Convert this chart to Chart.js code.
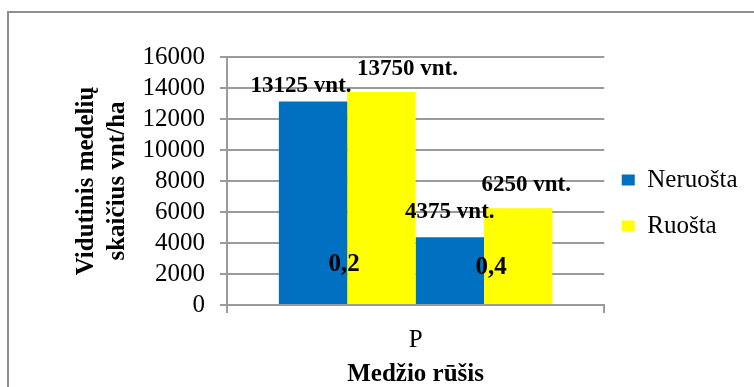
<!DOCTYPE html>
<html><head><meta charset="utf-8">
<script src="https://cdn.jsdelivr.net/npm/chart.js@4"></script>
<style>
html,body{margin:0;padding:0;background:#fff;overflow:hidden}
#wrap{position:relative;width:754px;height:387px;overflow:hidden}
#frame{position:absolute;left:7px;top:11px;width:800px;height:400px;border:2px solid #8f8f8f;box-sizing:border-box}
canvas{position:absolute;left:0;top:0}
</style></head><body>
<div id="wrap"><div id="frame"></div><canvas id="c" width="754" height="387"></canvas></div>
<script>
const categories = ['P'];
const groups = ['0,2', '0,4'];
const seriesNames = ['Neruošta', 'Ruošta'];
const neruosta = [13125, 4375];
const ruosta = [13750, 6250];
const yTicks = [0, 2000, 4000, 6000, 8000, 10000, 12000, 14000, 16000];
const unit = 'vnt.';
const yTitle = ['Vidutinis medelių', 'skaičius vnt/ha'];
const xTitle = 'Medžio rūšis';

const FONT = "'Liberation Serif', 'Times New Roman', serif";
const colors = ['#0070C0', '#FFFF00'];
const gridColor = '#9a9a9a';

const datasets = [];
groups.forEach((g, gi) => {
  [neruosta, ruosta].forEach((arr, si) => {
    datasets.push({
      label: seriesNames[si],
      group: g,
      data: [arr[gi]],
      backgroundColor: colors[si],
      borderWidth: 0
    });
  });
});

// label nudges (pixels) relative to bar top-centre, and group label nudges
const labelNudge = [[-12, -16], [26, -23], [0, -25], [8, -23]];
const groupNudge = [[-3, -40], [7, -37]];

const labelsPlugin = {
  id: 'labels',
  afterLayout(chart) {
    const lg = chart.legend;
    if (lg) { lg.top -= 19; lg.bottom -= 19; lg.left -= 3.5; lg.right -= 3.5; }
  },
  afterDatasetsDraw(chart) {
    const ctx = chart.ctx;
    const yScale = chart.scales.y;
    const base = yScale.getPixelForValue(0);
    ctx.save();
    ctx.fillStyle = '#000';
    ctx.textAlign = 'center';
    ctx.textBaseline = 'middle';
    ctx.font = "bold 23px " + FONT;
    chart.data.datasets.forEach((ds, i) => {
      const bar = chart.getDatasetMeta(i).data[0];
      const n = labelNudge[i];
      ctx.fillText(ds.data[0] + ' ' + unit, bar.x + n[0], bar.y + n[1]);
    });
    ctx.font = "bold 25px " + FONT;
    groups.forEach((g, gi) => {
      const bar = chart.getDatasetMeta(gi * 2).data[0];
      const edge = bar.x + bar.width / 2;
      const n = groupNudge[gi];
      ctx.fillText(g, edge + n[0], base + n[1]);
    });
    ctx.restore();
  }
};

new Chart(document.getElementById('c'), {
  type: 'bar',
  data: { labels: categories, datasets },
  options: {
    responsive: false,
    animation: false,
    devicePixelRatio: 1,
    categoryPercentage: 0.725,
    barPercentage: 1,
    layout: { padding: { top: 57, right: 3, bottom: 0, left: 0 } },
    plugins: {
      tooltip: { enabled: false },
      legend: {
        position: 'right',
        labels: {
          filter: (item) => item.datasetIndex < 2,
          font: { family: FONT, size: 25 },
          color: '#000',
          boxWidth: 13,
          boxHeight: 11,
          padding: 21
        }
      }
    },
    scales: {
      x: {
        grid: { drawOnChartArea: false, drawTicks: true, tickLength: 8, color: gridColor, lineWidth: 2 },
        border: { display: true, color: gridColor, width: 2 },
        ticks: { font: { family: FONT, size: 25 }, color: '#000', padding: 12 },
        title: { display: true, text: xTitle, color: '#000', font: { family: FONT, size: 25, weight: 'bold', lineHeight: 1 }, padding: { top: 0, bottom: 0 } },
        afterFit(s) { s.height = 82; }
      },
      y: {
        min: 0, max: 16000,
        afterBuildTicks(s) { s.ticks = yTicks.map(v => ({ value: v })); },
        ticks: { font: { family: FONT, size: 25 }, color: '#000', padding: 15, autoSkip: false, callback: (v) => String(v) },
        grid: { color: gridColor, lineWidth: 2, tickLength: 7 },
        border: { display: true, color: gridColor, width: 2 },
        title: { display: true, text: yTitle, color: '#000', font: { family: FONT, size: 25, weight: 'bold', lineHeight: 1.25 }, padding: { top: 71, bottom: 0 } },
        afterFit(s) { s.width = 227; }
      }
    }
  },
  plugins: [labelsPlugin]
});
</script>
</body></html>
